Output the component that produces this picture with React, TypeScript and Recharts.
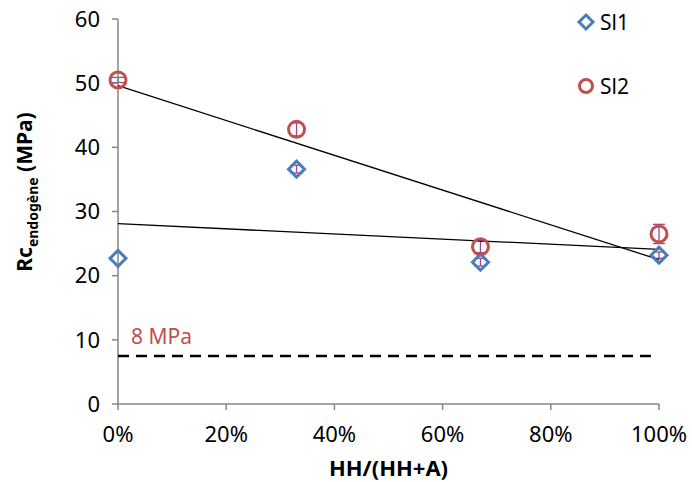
import React from 'react';
import { ScatterChart, Scatter, XAxis, YAxis, ErrorBar } from 'recharts';

const xValues = [0, 0.33, 0.67, 1];
const sl1Values = [22.7, 36.6, 22.1, 23.2];
const sl1Errors = [0, 0.6, 0.6, 0.5];
const sl2Values = [50.5, 42.8, 24.5, 26.5];
const sl2Errors = [0.4, 1.0, 0.9, 1.5];
const sl1Trend = [{ x: 0, y: 28.1 }, { x: 1, y: 24.1 }];
const sl2Trend = [{ x: 0, y: 49.6 }, { x: 1, y: 22.5 }];
const thresholdLine = [{ x: 0, y: 7.5 }, { x: 0.985, y: 7.5 }];
const xTicks = [0, 0.2, 0.4, 0.6, 0.8, 1];
const yTicks = [0, 10, 20, 30, 40, 50, 60];
const seriesNames = ['Sl1', 'Sl2'];

const sl1Data = xValues.map((x, i) => ({ x, y: sl1Values[i], err: sl1Errors[i] }));
const sl2Data = xValues.map((x, i) => ({ x, y: sl2Values[i], err: sl2Errors[i] }));

const BLUE = '#4a7ebb';
const RED = '#c0504d';
const ERR = '#a0468c';
const FONT = '"Noto Sans", "Open Sans", sans-serif';

const Diamond = (props: any) => {
  const { cx, cy } = props;
  if (cx == null || cy == null) return null;
  const r = 8;
  return (
    <polygon
      points={`${cx},${cy - r} ${cx + r},${cy} ${cx},${cy + r} ${cx - r},${cy}`}
      fill="none"
      stroke={BLUE}
      strokeWidth={3}
    />
  );
};

const Ring = (props: any) => {
  const { cx, cy } = props;
  if (cx == null || cy == null) return null;
  return <circle cx={cx} cy={cy} r={8} fill="none" stroke={RED} strokeWidth={3} />;
};

const Nothing = () => null;

const LegendBox = () => (
  <div style={{ position: 'absolute', left: 576, top: 7, fontFamily: FONT, fontSize: 21, color: '#000' }}>
    <div style={{ display: 'flex', alignItems: 'center', height: 30 }}>
      <svg width={20} height={20} style={{ marginRight: 4 }}>
        <polygon points="10,3 17,10 10,17 3,10" fill="none" stroke={BLUE} strokeWidth={3} />
      </svg>
      <span>{seriesNames[0]}</span>
    </div>
    <div style={{ display: 'flex', alignItems: 'center', height: 30, marginTop: 34 }}>
      <svg width={20} height={20} style={{ marginRight: 4 }}>
        <circle cx={10} cy={10} r={6.5} fill="none" stroke={RED} strokeWidth={3} />
      </svg>
      <span>{seriesNames[1]}</span>
    </div>
  </div>
);

const YLabel = () => (
  <text
    transform="translate(32,192) rotate(-90)"
    textAnchor="middle"
    fontFamily={FONT}
    fontWeight="bold"
    fontSize={21}
    fill="#000"
  >
    <tspan>Rc</tspan>
    <tspan fontSize={14} dy={6}>endogène</tspan>
    <tspan dy={-6}> (MPa)</tspan>
  </text>
);

export default function App() {
  return (
    <div style={{ position: 'absolute', left: 0, top: 0, width: 692, height: 482, background: '#fff' }}>
      <ScatterChart width={692} height={482} margin={{ top: 19, right: 33, bottom: 0, left: 0 }}>
        <XAxis
          type="number"
          dataKey="x"
          domain={[0, 1]}
          ticks={xTicks}
          height={78}
          tickFormatter={(v: number) => `${Math.round(v * 100)}%`}
          axisLine={{ stroke: '#868686', strokeWidth: 1.5 }}
          tickLine={{ stroke: '#868686', strokeWidth: 1.5 }}
          tickSize={6}
          tickMargin={16}
          tick={{ fill: '#000', fontSize: 22, fontFamily: FONT }}
          label={{ value: 'HH/(HH+A)', position: 'insideBottom', offset: 6, fill: '#000', fontSize: 22, fontWeight: 'bold', fontFamily: FONT }}
        />
        <YAxis
          type="number"
          dataKey="y"
          domain={[0, 60]}
          ticks={yTicks}
          width={118}
          axisLine={{ stroke: '#868686', strokeWidth: 1.5 }}
          tickLine={{ stroke: '#868686', strokeWidth: 1.5 }}
          tickSize={6}
          tickMargin={12}
          tick={{ fill: '#000', fontSize: 22, fontFamily: FONT }}
          label={<YLabel />}
        />
        <Scatter
          name="trend1"
          data={sl1Trend}
          line={{ stroke: '#000', strokeWidth: 1.3 }}
          shape={<Nothing />}
          legendType="none"
          isAnimationActive={false}
        />
        <Scatter
          name="trend2"
          data={sl2Trend}
          line={{ stroke: '#000', strokeWidth: 1.3 }}
          shape={<Nothing />}
          legendType="none"
          isAnimationActive={false}
        />
        <Scatter
          name="8 MPa"
          data={thresholdLine}
          line={{ stroke: '#000', strokeWidth: 2.5, strokeDasharray: '11 7' }}
          shape={<Nothing />}
          legendType="none"
          isAnimationActive={false}
        />
        <Scatter name="Sl1" data={sl1Data} shape={<Diamond />} isAnimationActive={false}>
          <ErrorBar dataKey="err" direction="y" width={6} stroke={ERR} strokeWidth={1.3} />
        </Scatter>
        <Scatter name="Sl2" data={sl2Data} shape={<Ring />} isAnimationActive={false}>
          <ErrorBar dataKey="err" direction="y" width={6} stroke={ERR} strokeWidth={1.3} />
        </Scatter>
        <text x={131} y={344} fontFamily={FONT} fontSize={21} fill={RED}>8 MPa</text>
      </ScatterChart>
      <LegendBox />
    </div>
  );
}
